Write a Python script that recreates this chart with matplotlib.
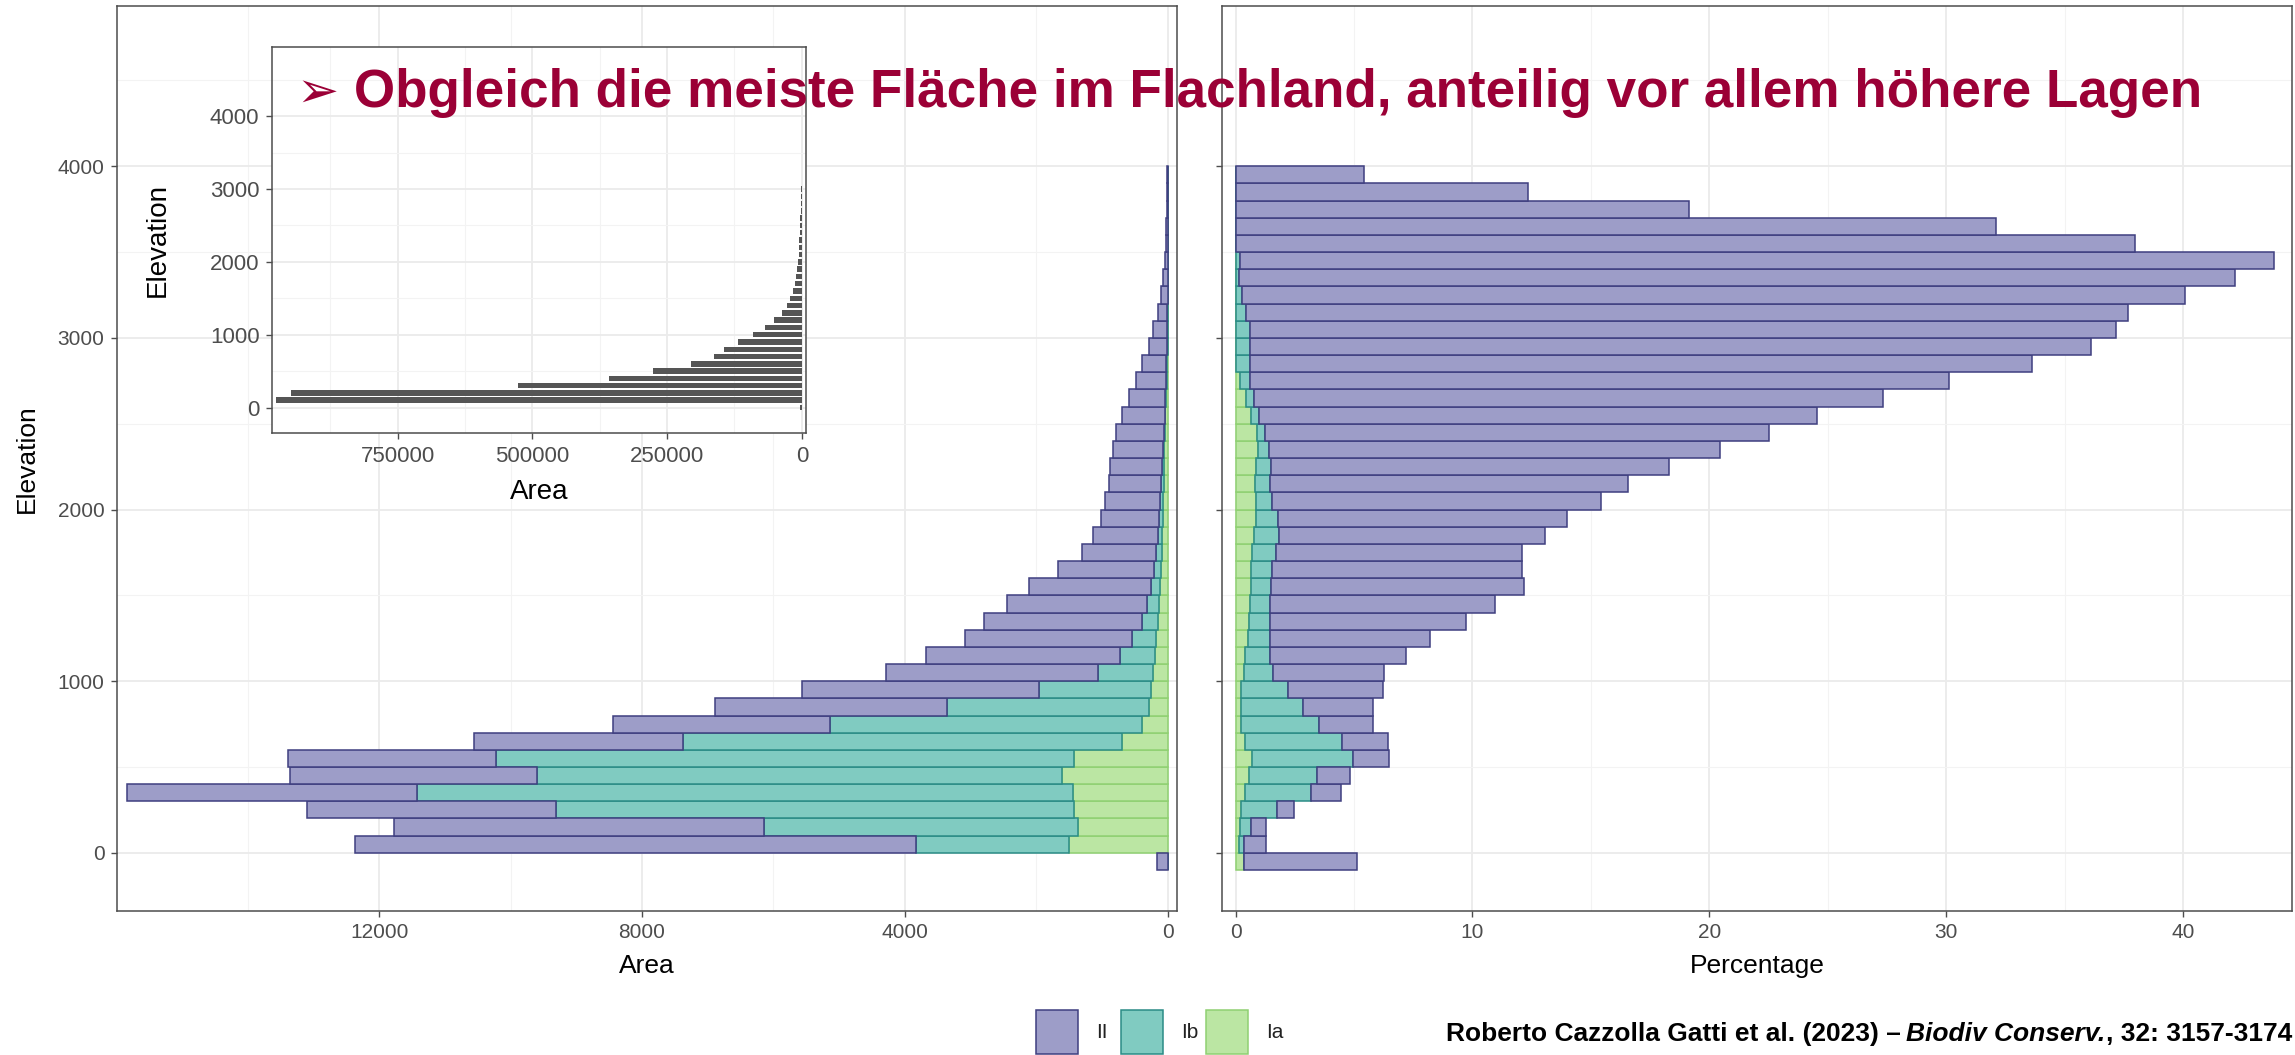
import matplotlib
matplotlib.use("Agg")
import matplotlib.pyplot as plt
import numpy as np
from matplotlib import font_manager as fm
from matplotlib.patches import Rectangle

# ---------------- data ----------------
elev = [-100, 0, 100, 200, 300, 400, 500, 600, 700, 800, 900, 1000, 1100, 1200,
        1300, 1400, 1500, 1600, 1700, 1800, 1900, 2000, 2100, 2200, 2300, 2400,
        2500, 2600, 2700, 2800, 2900, 3000, 3100, 3200, 3300, 3400, 3500, 3600,
        3700, 3800, 3900]

# protected area per elevation bin and IUCN class (left panel)
area_II = [165, 8540, 5640, 3780, 4410, 3760, 3170, 3180, 3305, 3528, 3596, 3218,
           2951, 2546, 2396, 2132, 1865, 1457, 1133, 987, 885, 835, 789, 784, 754,
           723, 643, 562, 456, 370, 273, 208, 137, 101, 66, 40, 30, 20, 15, 10, 5]
area_Ib = [0, 2330, 4780, 7890, 9975, 7995, 8795, 6677, 4745, 3078, 1704, 838,
           533, 370, 243, 181, 134, 109, 86, 60, 51, 45, 35, 30, 22, 15, 10, 8,
           10, 12, 15, 10, 5, 0, 0, 0, 0, 0, 0, 0, 0]
area_Ia = [0, 1500, 1360, 1420, 1445, 1605, 1425, 693, 395, 280, 260, 226, 195,
           172, 153, 137, 116, 101, 91, 81, 76, 66, 61, 56, 51, 45, 35, 25, 15,
           8, 0, 0, 0, 0, 0, 0, 0, 0, 0, 0, 0]

# percentage of the elevation band protected (right panel)
pct_II = [4.77, 0.90, 0.62, 0.74, 1.25, 1.38, 1.53, 1.96, 2.27, 2.98, 4.03, 4.70,
          5.74, 6.76, 8.28, 9.51, 10.68, 10.59, 10.38, 11.21, 12.20, 13.90, 15.13,
          16.80, 19.05, 21.27, 23.56, 26.56, 29.49, 33.03, 35.49, 36.58, 37.24,
          39.82, 42.04, 43.68, 37.97, 32.12, 19.13, 12.35, 5.44]
pct_Ib = [0.0, 0.23, 0.47, 1.51, 2.79, 2.87, 4.28, 4.06, 3.31, 2.60, 1.95, 1.20,
          1.06, 0.93, 0.87, 0.85, 0.85, 0.88, 1.03, 1.08, 0.93, 0.70, 0.64, 0.61,
          0.43, 0.35, 0.32, 0.35, 0.43, 0.61, 0.61, 0.61, 0.44, 0.26, 0.15, 0.18,
          0, 0, 0, 0, 0]
pct_Ia = [0.37, 0.14, 0.18, 0.23, 0.40, 0.57, 0.68, 0.42, 0.23, 0.23, 0.25, 0.37,
          0.40, 0.53, 0.59, 0.61, 0.64, 0.64, 0.70, 0.76, 0.85, 0.85, 0.82, 0.88,
          0.97, 0.91, 0.67, 0.44, 0.18, 0, 0, 0, 0, 0, 0, 0, 0, 0, 0, 0, 0]

# total land area per elevation bin (inset)
total_area = [3000, 975000, 948000, 526000, 358000, 277000, 205000, 163000,
              145000, 118000, 90000, 67500, 52000, 36500, 27500, 21800, 17200,
              13500, 10500, 8400, 7100, 6100, 5300, 4700, 4000, 3400, 2800, 2200,
              1600, 1200, 800, 600, 380, 250, 160, 90, 80, 60, 80, 80, 90]

classes = ["II", "Ib", "Ia"]
title = "Obgleich die meiste Fläche im Flachland, anteilig vor allem höhere Lagen"
cite_1 = "Roberto Cazzolla Gatti et al. (2023) \u2013"
cite_2 = "Biodiv Conserv."
cite_3 = ", 32: 3157-3174"

# ---------------- style ----------------
W, H = 2295, 1055
FILL = {"II": "#9d9dc8", "Ib": "#80cbc1", "Ia": "#bbe6a3"}
EDGE = {"II": "#3f3f80", "Ib": "#2b8c86", "Ia": "#8fd072"}
RED = "#9b0036"
names = {f.name for f in fm.fontManager.ttflist}
SANS = ["Liberation Sans", "DejaVu Sans"]
NARROW = ["Liberation Sans Narrow" if "Liberation Sans Narrow" in names else "Liberation Sans", "DejaVu Sans"]
plt.rcParams["font.family"] = SANS

fig = plt.figure(figsize=(W / 100, H / 100), dpi=100)


def px_axes(x0, y0, x1, y1):
    return fig.add_axes([x0 / W, 1 - y1 / H, (x1 - x0) / W, (y1 - y0) / H])


def fx(x):
    return x / W


def fy(y):
    return 1 - y / H


def style(ax, tick_fs=15):
    ax.set_facecolor("white")
    for s in ax.spines.values():
        s.set_color("#4d4d4d")
        s.set_linewidth(1.1)
    ax.tick_params(which="major", direction="out", length=4.5, width=1.0,
                   color="#4d4d4d", labelcolor="#4d4d4d", labelsize=tick_fs, pad=4.5)
    ax.tick_params(which="minor", length=0)
    ax.grid(which="major", color="#ebebeb", linewidth=1.3)
    ax.grid(which="minor", color="#f3f3f3", linewidth=0.8)
    ax.set_axisbelow(True)


y_center = np.array(elev) + 50
e_II = np.array(area_II, float)
e_Ib = np.array(area_Ib, float)
e_Ia = np.array(area_Ia, float)

# ---------------- left panel ----------------
axL = px_axes(117, 6, 1177, 911)
style(axL)
axL.barh(y_center, e_Ia, height=100, left=0, color=FILL["Ia"], edgecolor=EDGE["Ia"], linewidth=1.1)
axL.barh(y_center, e_Ib, height=100, left=e_Ia, color=FILL["Ib"], edgecolor=EDGE["Ib"], linewidth=1.1)
axL.barh(y_center, e_II, height=100, left=e_Ia + e_Ib, color=FILL["II"], edgecolor=EDGE["II"], linewidth=1.1)
axL.set_xlim(15989, -143)
axL.set_ylim(-339, 4934)
axL.set_xticks([0, 4000, 8000, 12000])
axL.set_xticks([2000, 6000, 10000, 14000], minor=True)
axL.set_yticks([0, 1000, 2000, 3000, 4000])
axL.set_yticks([500, 1500, 2500, 3500, 4500], minor=True)
axL.set_xlabel("Area", fontsize=19, color="black")
axL.set_ylabel("Elevation", fontsize=19, color="black")
axL.xaxis.set_label_coords(0.5, -0.047)
axL.yaxis.set_label_coords(-0.074, 0.5)

# ---------------- right panel ----------------
p_II = np.array(pct_II, float)
p_Ib = np.array(pct_Ib, float)
p_Ia = np.array(pct_Ia, float)
axR = px_axes(1222, 6, 2292, 911)
style(axR)
axR.barh(y_center, p_Ia, height=100, left=0, color=FILL["Ia"], edgecolor=EDGE["Ia"], linewidth=1.1)
axR.barh(y_center, p_Ib, height=100, left=p_Ia, color=FILL["Ib"], edgecolor=EDGE["Ib"], linewidth=1.1)
axR.barh(y_center, p_II, height=100, left=p_Ia + p_Ib, color=FILL["II"], edgecolor=EDGE["II"], linewidth=1.1)
axR.set_xlim(-0.57, 44.6)
axR.set_ylim(-339, 4934)
axR.set_xticks([0, 10, 20, 30, 40])
axR.set_xticks([5, 15, 25, 35], minor=True)
axR.set_yticks([0, 1000, 2000, 3000, 4000])
axR.set_yticks([500, 1500, 2500, 3500, 4500], minor=True)
axR.set_yticklabels([])
axR.set_xlabel("Percentage", fontsize=19, color="black")
axR.xaxis.set_label_coords(0.5, -0.047)

# ---------------- inset ----------------
axI = px_axes(272, 47, 806, 433)
style(axI, tick_fs=16)
axI.barh(np.array(elev) + 100, total_area, height=75, color="#555555", linewidth=0)
axI.set_xlim(983000, -7700)
axI.set_ylim(-350, 4950)
axI.set_xticks([0, 250000, 500000, 750000])
axI.set_xticklabels(["0", "250000", "500000", "750000"])
axI.set_xticks([125000, 375000, 625000, 875000], minor=True)
axI.set_yticks([0, 1000, 2000, 3000, 4000])
axI.set_yticks([500, 1500, 2500, 3500, 4500], minor=True)
axI.set_xlabel("Area", fontsize=20, color="black")
axI.set_ylabel("Elevation", fontsize=20, color="black")
axI.xaxis.set_label_coords(0.5, -0.12)
axI.yaxis.set_label_coords(-0.19, 0.5)

# ---------------- title ----------------
renderer = fig.canvas.get_renderer()
t = fig.text(fx(354), fy(107), title, fontsize=34, fontweight="bold", color=RED,
             ha="left", va="baseline", family=SANS)
wdt = t.get_window_extent(renderer).width
t.set_fontsize(34 * (2203 - 354) / wdt)
fs_t = t.get_fontsize()
fig.text(fx(296), fy(107), "\u27a2", fontsize=fs_t * 0.95, color=RED, ha="left",
         va="baseline", family=["DejaVu Sans"])

# ---------------- legend ----------------
box_w, box_h, yc = 42, 44, 1032
for i, c in enumerate(classes):
    x0 = 1036 + i * 85
    fig.patches.append(Rectangle((fx(x0), fy(yc + box_h / 2)), box_w / W, box_h / H,
                                 transform=fig.transFigure, facecolor=FILL[c],
                                 edgecolor=EDGE[c], linewidth=1.1))
    fig.text(fx(x0 + box_w + 18), fy(yc), c, fontsize=15, color="#222222",
             ha="left", va="center", family=NARROW)

# ---------------- citation ----------------
def draw_cite(fs, x_start):
    out = []
    x = x_start
    for txt, style_ in ((cite_1, "normal"), (cite_2, "italic"), (cite_3, "normal")):
        tt = fig.text(fx(x), fy(1041), txt, fontsize=fs, fontweight="bold",
                      fontstyle=style_, color="black", ha="left", va="baseline",
                      family=NARROW)
        out.append(tt)
        ext = tt.get_window_extent(renderer)
        x = ext.x1 + (fs * 0.3 if txt is cite_1 else 0)
    return out, x - x_start

parts, width = draw_cite(20, 1446)
for p in parts:
    p.remove()
parts, width = draw_cite(20 * (2291 - 1446) / width, 1446)

fig.savefig("out.png", dpi=100)
